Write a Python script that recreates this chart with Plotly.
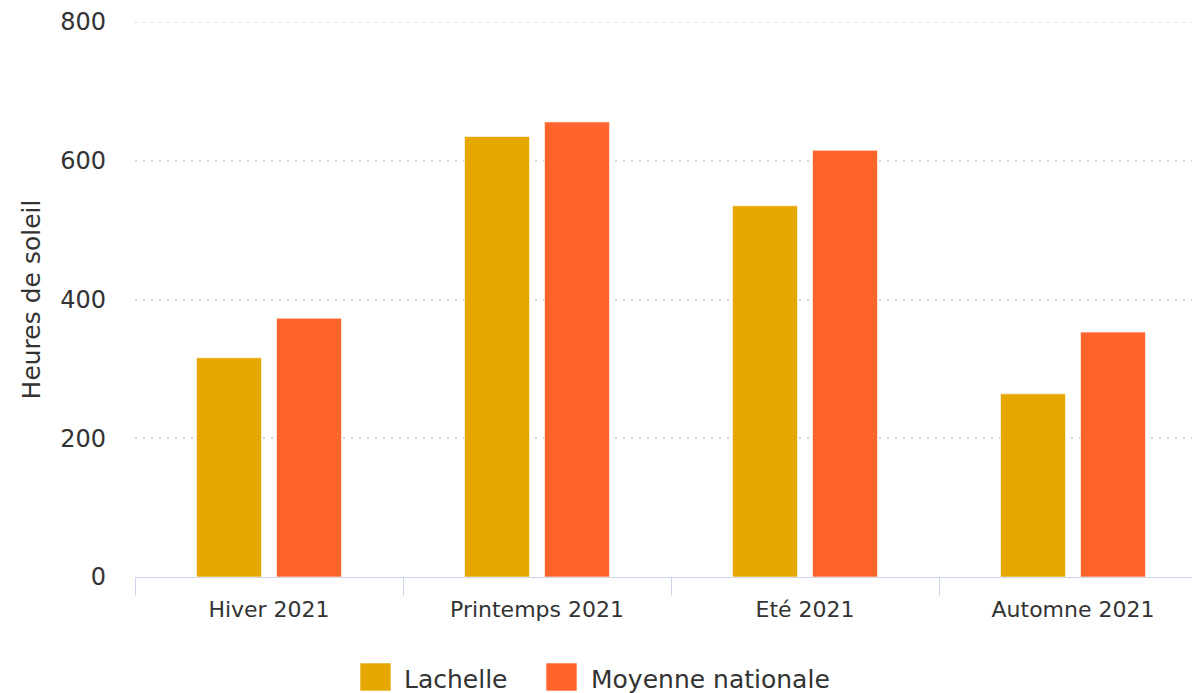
import plotly.graph_objects as go

# Sunshine hours per season, 2021
seasons = ["Hiver 2021", "Printemps 2021", "Eté 2021", "Automne 2021"]
series_names = ["Lachelle", "Moyenne nationale"]
lachelle = [316, 635, 535, 264]
moyenne = [373, 656, 615, 353]
series_colors = ["#E6A700", "#FF642D"]
y_ticks = [0, 200, 400, 600, 800]

FONT = "DejaVu Sans"
TEXT = "#333333"
AXIS = "#CCD6EB"
GRID = "#D6D6D6"
GRID_DASH = "2px,6px"

fig = go.Figure()
for name, values, color in zip(series_names, [lachelle, moyenne], series_colors):
    fig.add_trace(go.Bar(
        x=seasons, y=values, name=name,
        marker=dict(color=color, line=dict(color="rgba(255,255,255,0.6)", width=1)),
        showlegend=False,
    ))

# Top gridline sits on the range edge, so draw it explicitly
fig.add_shape(type="line", xref="paper", yref="y", x0=0, x1=1,
              y0=y_ticks[-1], y1=y_ticks[-1],
              line=dict(color=GRID, width=2, dash=GRID_DASH), layer="below")

# Legend drawn as swatches + labels under the axis
legend_x = [360, 546]          # swatch left edge, px
label_x = [402, 589]
plot_l, plot_r, plot_t, plot_b = 135, 1192, 22, 577
pw, ph = plot_r - plot_l, plot_b - plot_t
for name, color, sx, lx in zip(series_names, series_colors, legend_x, label_x):
    fig.add_shape(type="rect", xref="paper", yref="paper",
                  x0=(sx - plot_l) / pw, x1=(sx + 31 - plot_l) / pw,
                  y0=(plot_b - 663) / ph, y1=(plot_b - 691) / ph,
                  fillcolor=color, line=dict(color="rgba(255,255,255,0.6)", width=1))
    fig.add_annotation(text=name, xref="paper", yref="paper",
                       x=(lx - plot_l) / pw, y=(plot_b - 680) / ph,
                       xanchor="left", yanchor="middle", showarrow=False,
                       font=dict(family=FONT, size=25, color=TEXT))

fig.update_layout(
    width=1192, height=693,
    margin=dict(l=plot_l, r=0, t=plot_t, b=693 - plot_b),
    paper_bgcolor="white", plot_bgcolor="white",
    barmode="group", bargap=0.403, bargroupgap=0.1875,
    font=dict(family=FONT, color=TEXT),
    xaxis=dict(
        range=[-0.5, -0.5 + pw / 268.0],
        showgrid=False, showline=True, linecolor=AXIS, linewidth=1,
        ticks="outside", tickson="boundaries", ticklen=18, tickcolor=AXIS,
        tickwidth=1, tickfont=dict(family=FONT, size=22, color=TEXT),
        ticklabelstandoff=13,
        zeroline=False,
    ),
    yaxis=dict(
        range=[0, 800], tickvals=y_ticks,
        showgrid=True, gridcolor=GRID, gridwidth=2, griddash=GRID_DASH,
        zeroline=False, showline=False,
        tickfont=dict(family=FONT, size=24, color=TEXT),
        ticklabelstandoff=28,
        title=dict(text="Heures de soleil", standoff=12,
                   font=dict(family=FONT, size=25, color=TEXT)),
    ),
)

fig.write_html("out.html")
